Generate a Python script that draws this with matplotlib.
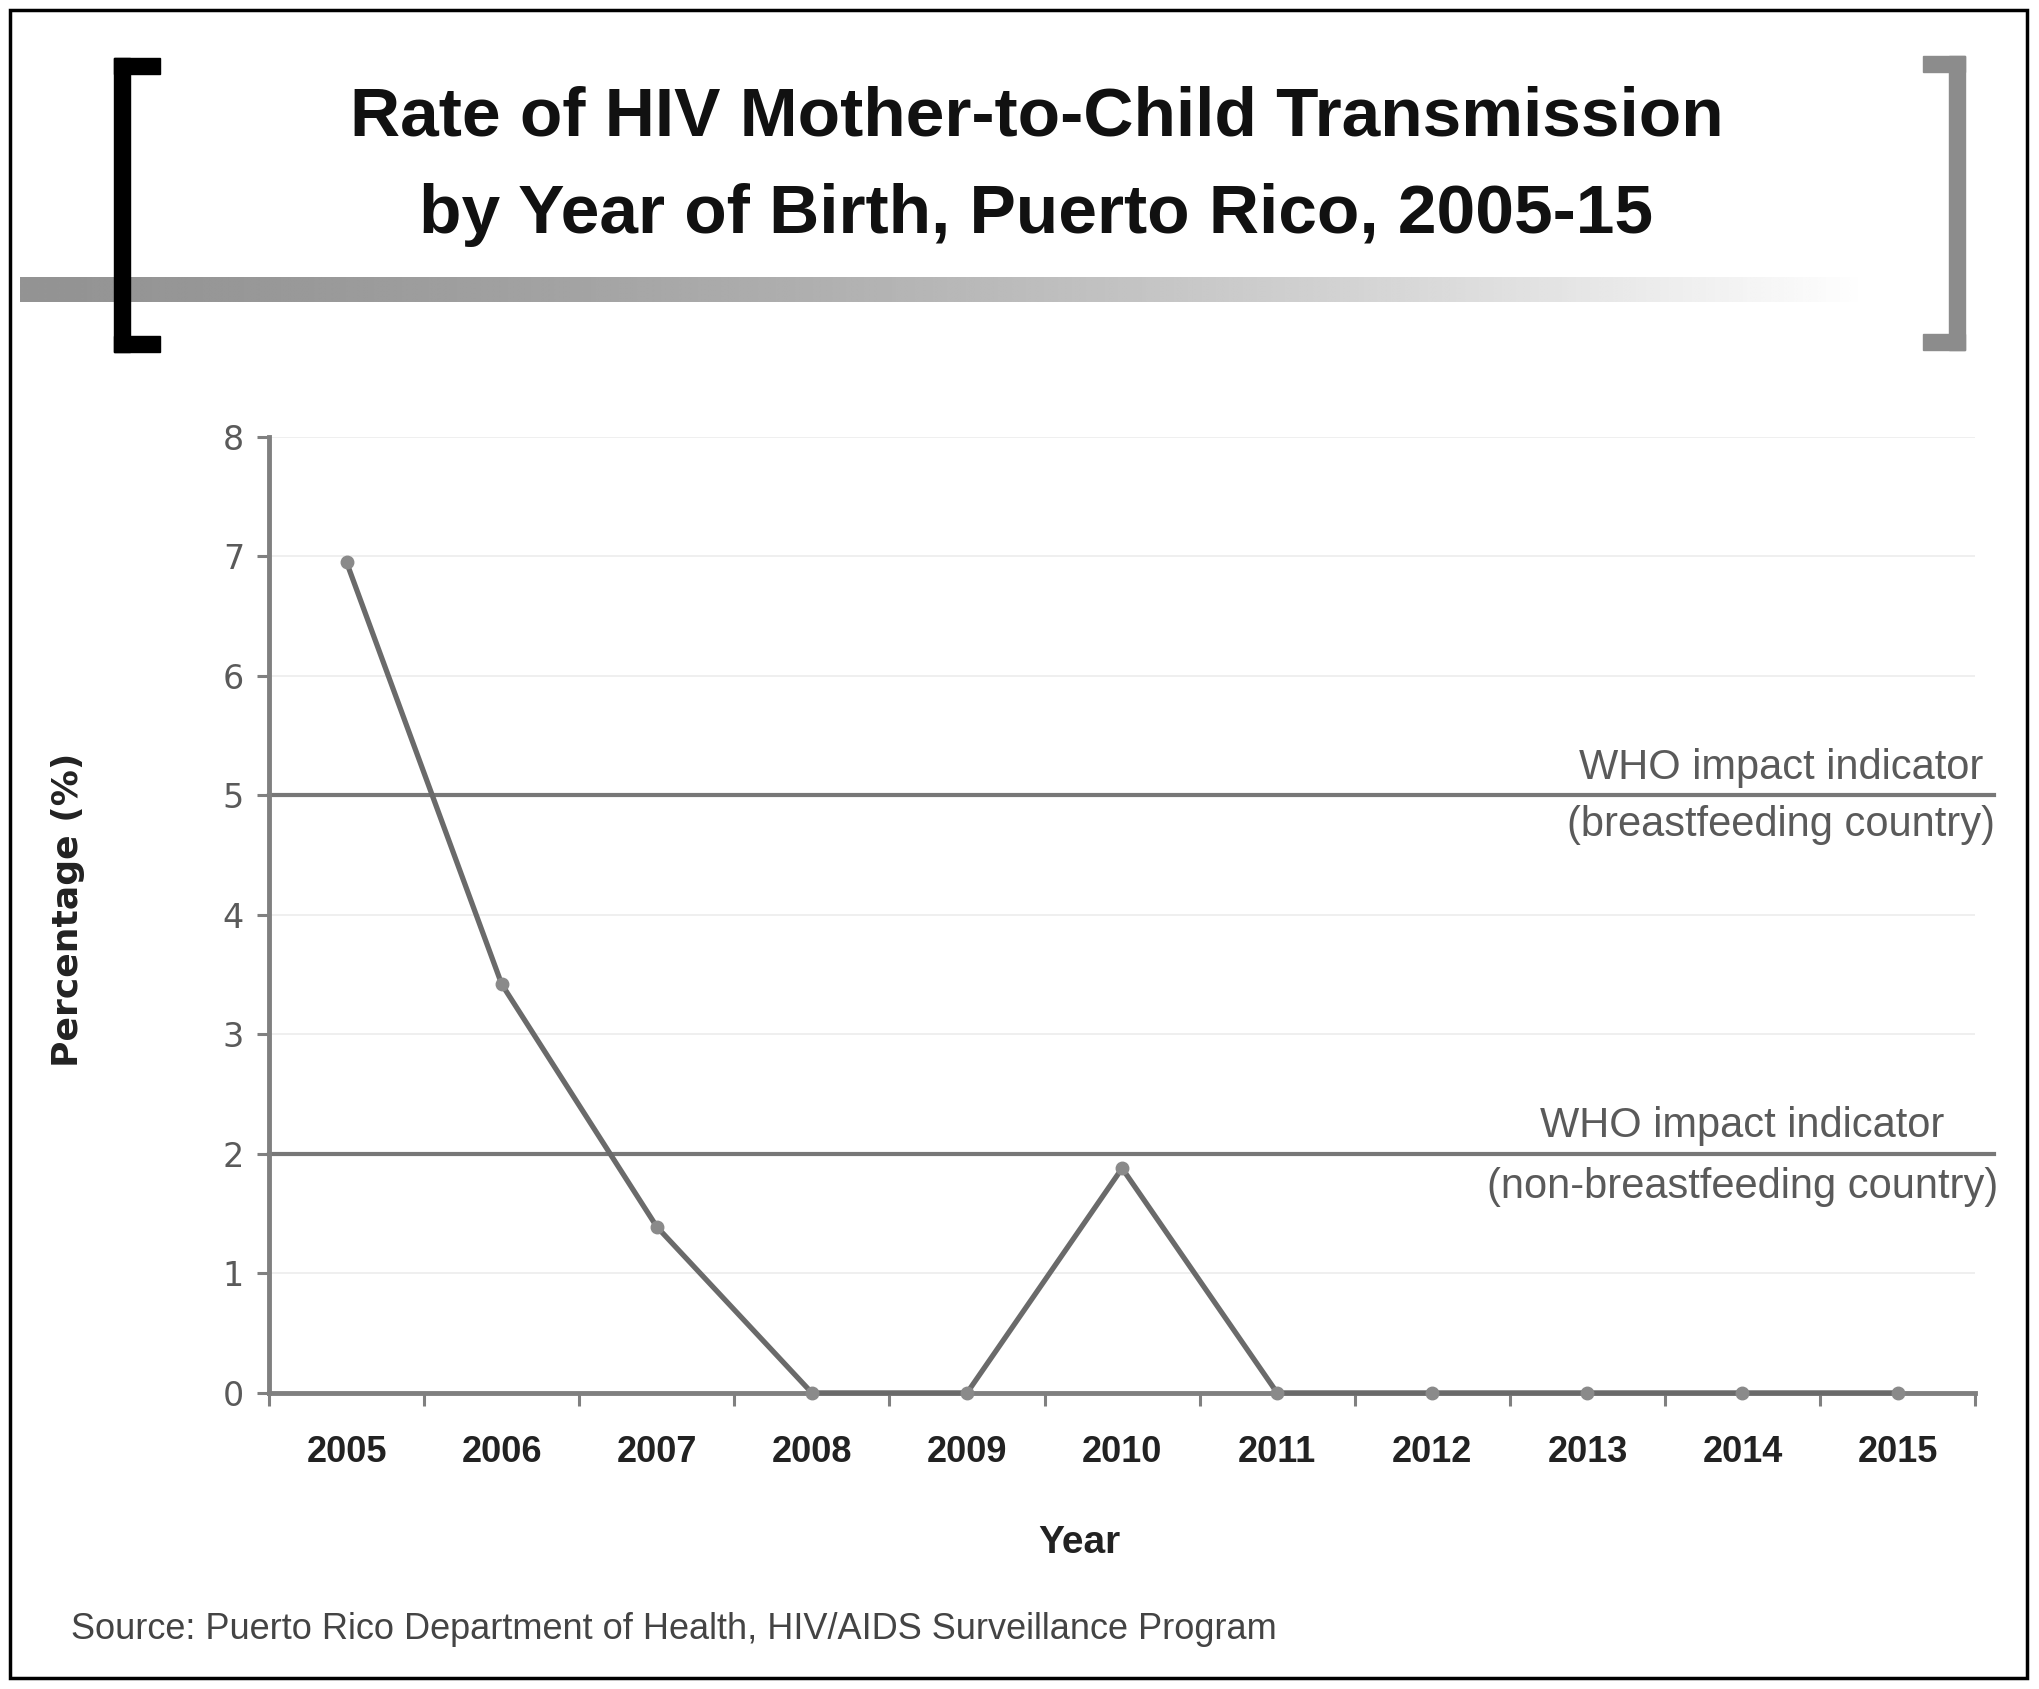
import matplotlib
matplotlib.use("Agg")
import matplotlib.pyplot as plt
import numpy as np

# Rate of HIV mother-to-child transmission, Puerto Rico 2005-15

years = ["2005", "2006", "2007", "2008", "2009", "2010", "2011", "2012", "2013", "2014", "2015"]
rates = [6.95, 3.42, 1.39, 0.0, 0.0, 1.88, 0.0, 0.0, 0.0, 0.0, 0.0]
who_breastfeeding = 5
who_non_breastfeeding = 2

NARROW = ["Liberation Sans Narrow", "Liberation Sans", "DejaVu Sans"]
GRAY = "#777777"

fig = plt.figure(figsize=(20.4, 16.89), dpi=100)

# -- Decorations in pixel coords (border, brackets, shaded bar) --
bg = fig.add_axes([0, 0, 1, 1])
bg.set_xlim(0, 2040)
bg.set_ylim(1689, 0)
bg.axis("off")

bg.add_patch(plt.Rectangle((10, 10), 2017, 1668, fill=False, edgecolor="black", linewidth=2.5))

# gradient bar behind the title
grad = np.linspace(0, 1, 400)
shade = 0.58 + 0.42 * grad ** 1.6
img = np.tile(shade, (10, 1))
bg.imshow(img, cmap="gray", vmin=0, vmax=1, extent=(20, 1870, 302, 277), aspect="auto", interpolation="bilinear")

# left bracket (black)
bg.add_patch(plt.Rectangle((114, 58), 16, 294, color="black"))
bg.add_patch(plt.Rectangle((114, 58), 46, 16, color="black"))
bg.add_patch(plt.Rectangle((114, 336), 46, 16, color="black"))
# right bracket (gray)
bg.add_patch(plt.Rectangle((1949, 56), 16, 294, color="#8c8c8c"))
bg.add_patch(plt.Rectangle((1923, 56), 42, 16, color="#8c8c8c"))
bg.add_patch(plt.Rectangle((1923, 334), 42, 16, color="#8c8c8c"))

fig.text(0.508, 0.920, "Rate of HIV Mother-to-Child Transmission", ha="center", va="baseline",
         fontsize=50, fontweight="bold", family=NARROW, color="#111111")
fig.text(0.508, 0.862, "by Year of Birth, Puerto Rico, 2005-15", ha="center", va="baseline",
         fontsize=50, fontweight="bold", family=NARROW, color="#111111")

# -- Main chart --
ax = fig.add_axes([0.1319, 0.1753, 0.8363, 0.566])
ax.set_facecolor("none")
x = np.arange(len(years))

for v in range(1, 9):
    ax.axhline(v, color="#ececec", linewidth=1.2, zorder=0)

ax.plot([-0.5, 10.62], [who_breastfeeding] * 2, color=GRAY, linewidth=3, clip_on=False, zorder=2)
ax.plot([-0.5, 10.62], [who_non_breastfeeding] * 2, color=GRAY, linewidth=3, clip_on=False, zorder=2)

ax.plot(x, rates, color="#6a6a6a", linewidth=3.8, marker="o", markersize=9,
        markerfacecolor="#8a8a8a", markeredgecolor="#8a8a8a", zorder=3, clip_on=False)

ax.set_xlim(-0.5, 10.5)
ax.set_ylim(0, 8)

for side in ["top", "right"]:
    ax.spines[side].set_visible(False)
for side in ["left", "bottom"]:
    ax.spines[side].set_color("#808080")
    ax.spines[side].set_linewidth(3.5)

ax.set_yticks(range(0, 9))
ax.tick_params(axis="y", length=9, width=2.2, color="#808080", pad=9, labelsize=24, labelcolor="#5a5a5a")
ax.set_xticks(x)
ax.set_xticklabels(years, fontsize=26, fontweight="bold", family=NARROW, color="#222222")
ax.set_xticks(np.arange(-0.5, 11, 1), minor=True)
ax.tick_params(axis="x", which="major", length=0, pad=30)
ax.tick_params(axis="x", which="minor", length=9, width=2.2, color="#808080")

ax.set_ylabel("Percentage (%)", fontsize=26, fontweight="bold", color="#222222")
ax.yaxis.set_label_coords(-0.108, 0.505)
ax.set_xlabel("Year", fontsize=28, fontweight="bold", family=NARROW, color="#222222")
ax.xaxis.set_label_coords(0.475, -0.138)

# WHO indicator labels
lab = dict(ha="right", va="center", fontsize=30, color="#5a5a5a", family=["Liberation Sans", "DejaVu Sans"])
ax.text(10.55, 5.23, "WHO impact indicator", **lab)
ax.text(10.63, 4.75, "(breastfeeding country)", **lab)
ax.text(10.30, 2.23, "WHO impact indicator", **lab)
ax.text(10.65, 1.72, "(non-breastfeeding country)", **lab)

fig.text(0.035, 0.0355, "Source: Puerto Rico Department of Health, HIV/AIDS Surveillance Program",
         ha="left", va="center", fontsize=26, color="#444444", family=["Liberation Sans", "DejaVu Sans"])

fig.savefig("out.png", dpi=100)
